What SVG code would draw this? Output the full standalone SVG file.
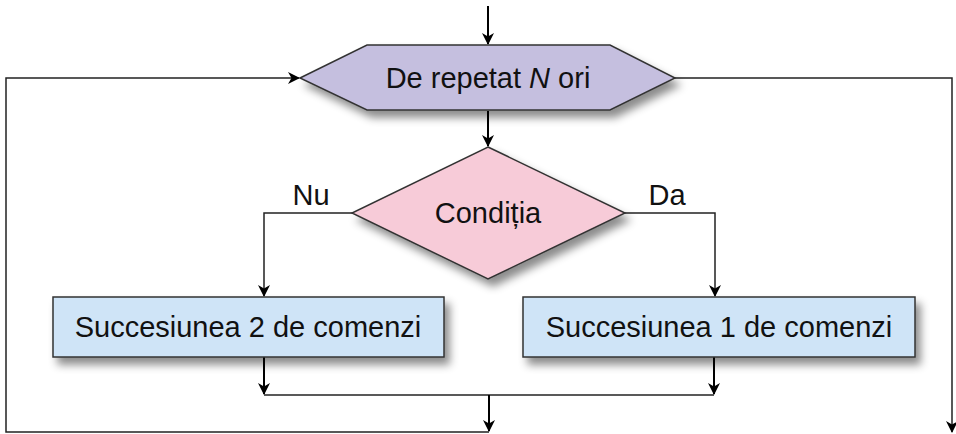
<svg xmlns="http://www.w3.org/2000/svg" width="956" height="434" viewBox="0 0 956 434">
  <defs>
    <filter id="shadow" x="-20%" y="-30%" width="150%" height="180%">
      <feDropShadow dx="5" dy="7" stdDeviation="4" flood-color="#000" flood-opacity="0.45"/>
    </filter>
    <marker id="arrow" viewBox="0 0 12 14" refX="11" refY="7" markerWidth="13" markerHeight="14" markerUnits="userSpaceOnUse" orient="auto">
      <path d="M0,1 L12,7 L0,13 L3.5,7 Z" fill="#000"/>
    </marker>
  </defs>
  <style>
    .shape { stroke: #333; stroke-width: 1.5; filter: url(#shadow); }
    .loop { fill: #c5bfdf; }
    .cond { fill: #f7cbd8; }
    .step { fill: #cfe4f7; }
    .label { font-family: "Liberation Sans", Arial, sans-serif; font-size: 29px; fill: #111; text-anchor: middle; }
    .line { fill: none; stroke: #222; stroke-width: 1.5; }
    .stem { fill: none; stroke: #000; stroke-width: 2; }
  </style>
  <rect width="956" height="434" fill="#fff"/>

  <g id="connectors">
    <path class="stem" d="M488,6 V44" marker-end="url(#arrow)"/>
    <path class="stem" d="M488,111 V146" marker-end="url(#arrow)"/>
    <path class="line" d="M352,213 H264 V296" marker-end="url(#arrow)"/>
    <path class="line" d="M625,213 H715 V296" marker-end="url(#arrow)"/>
    <path class="stem" d="M264,357 V394" marker-end="url(#arrow)"/>
    <path class="stem" d="M714,357 V394" marker-end="url(#arrow)"/>
    <path class="line" d="M264,395 H714"/>
    <path class="stem" d="M489,395 V431" marker-end="url(#arrow)"/>
    <path class="line" d="M489,432 H6 V78 H299" marker-end="url(#arrow)"/>
    <path class="line" d="M675,78 H952 V432" marker-end="url(#arrow)"/>
  </g>

  <g id="loop-header">
    <polygon class="shape loop" points="300,78 367,45 610,45 675,78 610,110 367,110"/>
    <text class="label" x="488" y="88">De repetat <tspan font-style="italic">N</tspan> ori</text>
  </g>

  <g id="condition">
    <polygon class="shape cond" points="488,147 625,213 488,279 352,213"/>
    <text class="label" x="488" y="223">Condiția</text>
  </g>

  <g id="label-nu">
    <text class="label" x="311" y="205">Nu</text>
  </g>
  <g id="label-da">
    <text class="label" x="667" y="205">Da</text>
  </g>

  <g id="sequence-2">
    <rect class="shape step" x="53" y="297" width="391" height="60"/>
    <text class="label" x="248" y="337">Succesiunea 2 de comenzi</text>
  </g>

  <g id="sequence-1">
    <rect class="shape step" x="523" y="297" width="392" height="60"/>
    <text class="label" x="719" y="337">Succesiunea 1 de comenzi</text>
  </g>
</svg>
